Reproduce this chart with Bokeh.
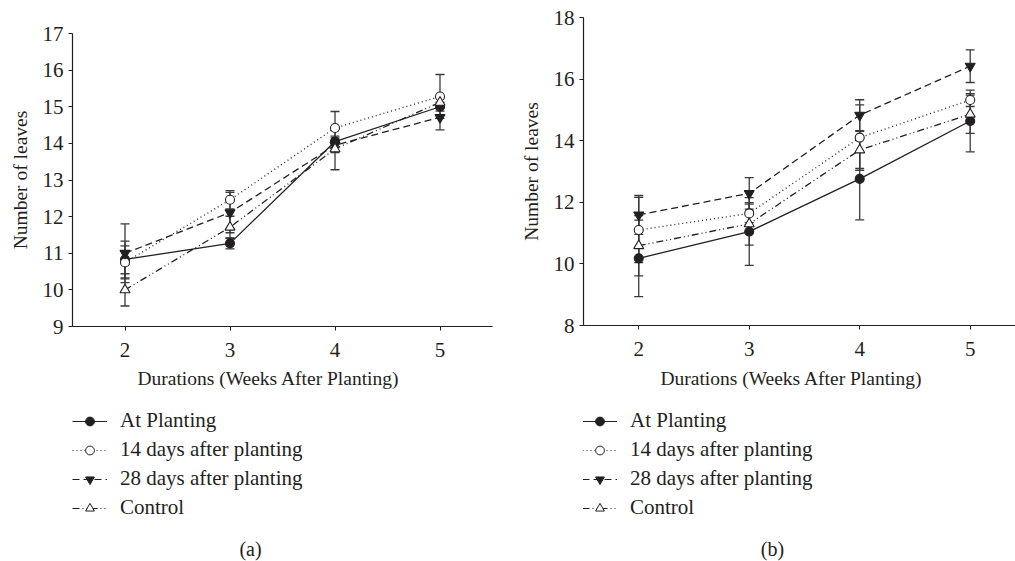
from bokeh.plotting import figure
from bokeh.models import (ColumnDataSource, Whisker, TeeHead, Legend, LegendItem,
                          Label, FixedTicker)
from bokeh.layouts import row, column
from bokeh.embed import file_html
from bokeh.resources import INLINE

weeks = [2, 3, 4, 5]
series_names = ["At Planting", "14 days after planting", "28 days after planting", "Control"]
x_title = "Durations (Weeks After Planting)"
y_title = "Number of leaves"

# Panel (a)
a_at = [10.83, 11.27, 14.05, 15.00]
a_14 = [10.75, 12.46, 14.42, 15.28]
a_28 = [11.00, 12.11, 13.95, 14.71]
a_ctrl = [10.00, 11.71, 13.85, 15.12]
a_at_err = [0.50, 0.15, 0.15, 0.12]
a_14_err = [0.45, 0.25, 0.45, 0.60]
a_28_err = [0.80, 0.55, 0.20, 0.34]
a_ctrl_err = [0.44, 0.30, 0.57, 0.15]

# Panel (b)
b_at = [10.18, 11.05, 12.76, 14.64]
b_14 = [11.10, 11.64, 14.10, 15.32]
b_28 = [11.59, 12.29, 14.83, 16.42]
b_ctrl = [10.59, 11.30, 13.70, 14.86]
b_at_err = [1.24, 1.10, 1.33, 1.00]
b_14_err = [1.06, 0.30, 1.06, 0.21]
b_28_err = [0.63, 0.51, 0.50, 0.53]
b_ctrl_err = [0.98, 0.69, 0.60, 0.62]

a_ticks_y = [9, 10, 11, 12, 13, 14, 15, 16, 17]
b_ticks_y = [8, 10, 12, 14, 16, 18]

INK = "#231f20"
ERR = "#3a3a3a"
FONT = "Liberation Serif"
H_TOP = 368
H_BOT = 193

styles = [
    dict(dash="solid", marker="circle", fill=INK),
    dict(dash="1 3", marker="circle", fill="white"),
    dict(dash="7 4", marker="inverted_triangle", fill=INK),
    dict(dash="7 3 1 3 1 3", marker="triangle", fill="white"),
]


def make_panel(vals, errs, yr, yticks, width, borders):
    p = figure(width=width, height=H_TOP, x_range=(1.5, yr[2]), y_range=(yr[0], yr[1]),
               output_backend="svg", toolbar_location=None,
               min_border_left=borders[0], min_border_right=borders[1],
               min_border_top=borders[2], min_border_bottom=borders[3])
    p.outline_line_color = None
    p.xgrid.visible = False
    p.ygrid.visible = False

    p.xaxis.ticker = FixedTicker(ticks=weeks)
    p.yaxis.ticker = FixedTicker(ticks=yticks)
    for ax in (p.xaxis, p.yaxis):
        ax.axis_line_color = INK
        ax.axis_line_width = 1.2
        ax.major_tick_line_color = INK
        ax.major_tick_in = 0
        ax.major_tick_out = 4
        ax.minor_tick_line_color = None
        ax.major_label_text_font = FONT
        ax.major_label_text_font_size = "21px"
        ax.major_label_text_color = INK
        ax.axis_label_text_font = FONT
        ax.axis_label_text_font_size = "19.5px"
        ax.axis_label_text_font_style = "normal"
        ax.axis_label_text_color = INK
    p.yaxis.axis_label = y_title
    p.xaxis.major_label_standoff = 12
    p.yaxis.major_label_standoff = 5
    p.yaxis.axis_label_standoff = 9

    srcs = []
    for v, e, st in zip(vals, errs, styles):
        src = ColumnDataSource(dict(x=weeks, y=v,
                                    upper=[a + b for a, b in zip(v, e)],
                                    lower=[a - b for a, b in zip(v, e)]))
        srcs.append(src)
        p.line("x", "y", source=src, line_color=INK, line_width=1.3, line_dash=st["dash"])
    for src in srcs:
        w = Whisker(source=src, base="x", upper="upper", lower="lower",
                    line_color=ERR, line_width=1.3,
                    upper_head=TeeHead(size=9, line_color=ERR, line_width=1.3),
                    lower_head=TeeHead(size=9, line_color=ERR, line_width=1.3))
        p.add_layout(w)
    for src, st in zip(srcs, styles):
        sz = 10 if "triangle" in st["marker"] else 9
        p.scatter("x", "y", source=src, marker=st["marker"], size=sz,
                  fill_color=st["fill"], line_color=INK, line_width=1.1)
    return p


def make_legend(width, leg_x, caption, cap_x, title_x):
    # frame of this figure is aligned with the plot above it by the column layout
    q = figure(width=width, height=H_BOT, x_range=(0, 1), y_range=(0, 1),
               output_backend="svg", toolbar_location=None,
               x_axis_location=None, y_axis_location=None,
               min_border_left=0, min_border_right=0, min_border_top=0, min_border_bottom=0)
    q.xgrid.visible = False
    q.ygrid.visible = False
    q.outline_line_color = None
    items = []
    for name, st in zip(series_names, styles):
        # legend keys only: data placed outside the visible range
        lr = q.line([5, 6], [5, 6], line_color=INK, line_width=1.2, line_dash=st["dash"])
        sz = 7 if "triangle" in st["marker"] else 6
        sr = q.scatter([5.5], [5.5], marker=st["marker"], size=sz,
                       fill_color=st["fill"], line_color=INK, line_width=1.0)
        items.append(LegendItem(label=name, renderers=[lr, sr]))
    leg = Legend(items=items, location=(leg_x, 41), orientation="vertical",
                 glyph_width=35, glyph_height=22, label_height=22, spacing=4,
                 label_standoff=13, padding=0, margin=0,
                 border_line_color=None, background_fill_alpha=0,
                 label_text_font=FONT, label_text_font_size="21px",
                 label_text_color=INK)
    q.add_layout(leg, "center")
    q.add_layout(Label(x=title_x, y=H_BOT - 10, x_units="screen", y_units="screen",
                       text=x_title, text_align="center", text_baseline="middle",
                       text_font=FONT, text_font_size="19.5px", text_color=INK))
    q.add_layout(Label(x=cap_x, y=13, x_units="screen", y_units="screen",
                       text=caption, text_align="center", text_baseline="middle",
                       text_font=FONT, text_font_size="20px", text_color=INK))
    return q


p1 = make_panel([a_at, a_14, a_28, a_ctrl], [a_at_err, a_14_err, a_28_err, a_ctrl_err],
                (9, 17, 5.5), a_ticks_y, 508, (72, 16, 33, H_TOP - 326))
p2 = make_panel([b_at, b_14, b_28, b_ctrl], [b_at_err, b_14_err, b_28_err, b_ctrl_err],
                (8, 18, 5.41), b_ticks_y, 507, (75, 0, 17, H_TOP - 325))
l1 = make_legend(508, 0, "(a)", 178, 196)
l2 = make_legend(507, -1, "(b)", 189, 208)

layout = row(column(p1, l1), column(p2, l2))
open("out.html", "w").write(file_html(layout, INLINE))
